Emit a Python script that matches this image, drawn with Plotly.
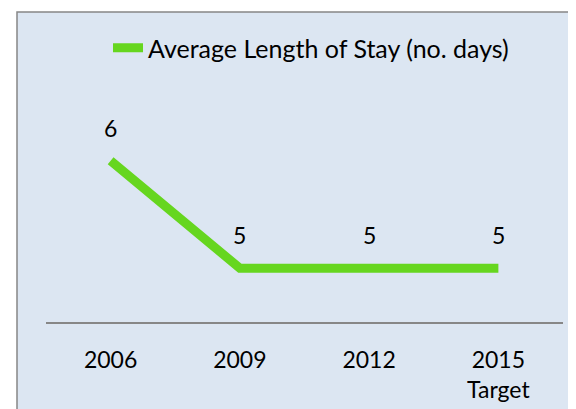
import plotly.graph_objects as go

categories = ["2006", "2009", "2012", "2015<br>Target"]
values = [6, 5, 5, 5]
labels = ["6", "5", "5", "5"]
series_name = "Average Length of Stay (no. days)"

W, H = 576, 409
L, R, T, B = 38, 21, 99, 95
FONT = "Lato, Carlito, 'Open Sans', sans-serif"
GREEN = "#66D61F"

fig = go.Figure()
fig.add_trace(go.Scatter(
    x=categories, y=values, mode="lines", name=series_name,
    line=dict(color=GREEN, width=9),
    hoverinfo="skip",
))

for i, (v, t) in enumerate(zip(values, labels)):
    fig.add_annotation(x=i, y=v, text=t, showarrow=False, yshift=33,
                       xanchor="center", yanchor="middle",
                       font=dict(family=FONT, size=23, color="#000000"))

pw = W - L - R
ph = H - T - B
fig.add_shape(type="rect", xref="paper", yref="paper",
              x0=(9 - L) / pw, x1=(W + 20 - L) / pw,
              y0=-(B + 20) / ph, y1=(H - 4 - B) / ph,
              fillcolor="#DCE6F2", line=dict(color="#878787", width=1.5),
              layer="below")

fig.update_layout(
    width=W, height=H,
    margin=dict(l=L, r=R, t=T, b=B),
    paper_bgcolor="white", plot_bgcolor="rgba(0,0,0,0)",
    font=dict(family=FONT, size=23, color="#000000"),
    showlegend=True,
    legend=dict(orientation="h", xref="container", yref="container",
                x=100 / W, y=1 - 40 / H, xanchor="left", yanchor="middle",
                bgcolor="rgba(0,0,0,0)", font=dict(family=FONT, size=25)),
    xaxis=dict(type="category", range=[-0.5, 3.5], showgrid=False,
               showline=True, linecolor="#878787", linewidth=1.5,
               ticks="", ticklabelstandoff=17, zeroline=False, fixedrange=True,
               tickfont=dict(family=FONT, size=23)),
    yaxis=dict(range=[4.5, 6.5], showgrid=False, showticklabels=False,
               zeroline=False, showline=False, ticks="", fixedrange=True),
)

fig.write_html("out.html")
